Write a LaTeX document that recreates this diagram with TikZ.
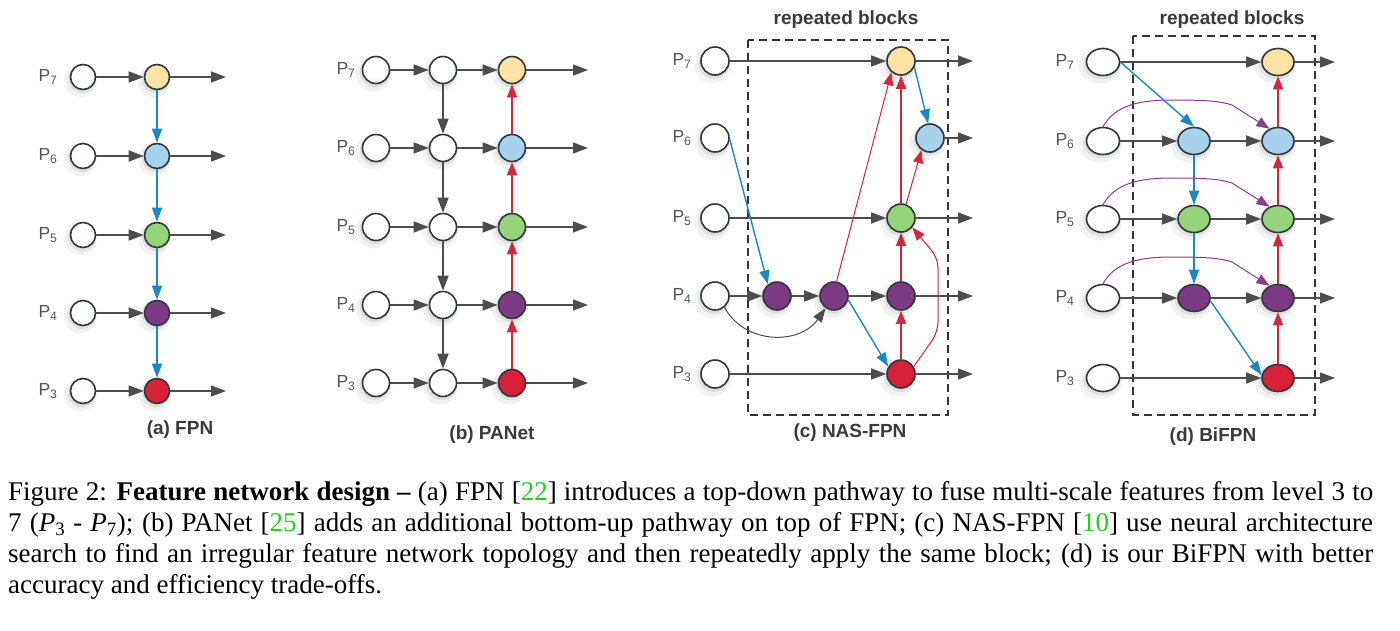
\documentclass[tikz,border=0pt]{standalone}
\usepackage{fontspec}
\setmainfont{Liberation Serif}
\setsansfont{Liberation Sans}
\usetikzlibrary{arrows.meta,shapes.geometric,shadows}
\definecolor{cyel}{HTML}{FCE3A4}
\definecolor{cblu}{HTML}{A8D2EC}
\definecolor{cgrn}{HTML}{96D47C}
\definecolor{cpur}{HTML}{7C3A84}
\definecolor{cred}{HTML}{D82039}
\definecolor{ndline}{HTML}{30363B}
\definecolor{gline}{HTML}{4D4D4D}
\definecolor{bline}{HTML}{1A88C4}
\definecolor{rline}{HTML}{D9243D}
\definecolor{pline}{HTML}{8A3E8E}
\definecolor{lbltxt}{HTML}{555555}
\definecolor{ttltxt}{HTML}{3A3A3A}
\definecolor{boxline}{HTML}{333333}
\definecolor{citegreen}{HTML}{1FD01F}
\begin{document}
\begin{tikzpicture}[x=1pt,y=-1pt,
  glow/.style={general shadow={fill=black,fill opacity=0.05,shadow scale=1.3,shadow xshift=-2pt,shadow yshift=-3pt},
               general shadow={fill=black,fill opacity=0.07,shadow scale=1.12,shadow xshift=-1pt,shadow yshift=-2pt}},
  nd/.style={circle,draw=ndline,line width=1.6pt,inner sep=0pt,fill=white,glow},
  ndel/.style={ellipse,draw=ndline,line width=1.6pt,inner sep=0pt,fill=white,glow,minimum width=32pt,minimum height=27pt},
  lbl/.style={text=lbltxt,font=\fontsize{17.5}{20}\selectfont\sffamily,inner sep=0pt},
  ttl/.style={text=ttltxt,font=\fontsize{19}{22}\selectfont\sffamily\bfseries,inner sep=0pt},
  ga/.style={draw=gline,line width=1.3pt,-{Triangle[length=15pt,width=11pt]}},
  gthin/.style={draw=gline,line width=1pt,-{Triangle[length=14pt,width=10pt]}},
  ba/.style={draw=bline,line width=1.4pt,-{Triangle[length=14pt,width=10pt]}},
  ra/.style={draw=rline,line width=1.3pt,-{Triangle[length=13pt,width=10pt]}},
  rthin/.style={draw=rline,line width=1pt,-{Triangle[length=13pt,width=10pt]}},
  pa/.style={draw=pline,line width=1pt,-{Triangle[length=13pt,width=10pt]}},
  dbox/.style={draw=boxline,line width=1.8pt,dash pattern=on 8pt off 5pt}
]
\useasboundingbox[fill=white] (0,0) rectangle (1400,630);

% ---------------- (a) FPN ----------------
\foreach \i/\y/\c in {7/77/cyel,6/156/cblu,5/235/cgrn,4/313/cpur,3/391/cred}{
  \node[lbl] (al\i) at (48,\y) {P\textsubscript{\i}};
  \node[nd,minimum size=25pt] (ain\i) at (83,\y) {};
  \node[nd,minimum size=25pt,fill=\c] (a\i) at (157,\y) {};
  \coordinate (aout\i) at (226,\y);
  \draw[ga] (ain\i) -- (a\i);
  \draw[ga] (a\i) -- (aout\i);
}
\draw[ba] (a7) -- (a6);
\draw[ba] (a6) -- (a5);
\draw[ba] (a5) -- (a4);
\draw[ba] (a4) -- (a3);
\node[ttl] (ta) at (180,430) {(a) FPN};

% ---------------- (b) PANet ----------------
\foreach \i/\y/\c in {7/70/cyel,6/148/cblu,5/227/cgrn,4/305/cpur,3/383/cred}{
  \node[lbl] (bl\i) at (346,\y) {P\textsubscript{\i}};
  \node[nd,minimum size=27pt] (bin\i) at (376,\y) {};
  \node[nd,minimum size=27pt] (bm\i) at (443,\y) {};
  \node[nd,minimum size=27pt,fill=\c] (b\i) at (512,\y) {};
  \coordinate (bout\i) at (588,\y);
  \draw[ga] (bin\i) -- (bm\i);
  \draw[ga] (bm\i) -- (b\i);
  \draw[ga] (b\i) -- (bout\i);
}
\draw[ga] (bm7) -- (bm6);
\draw[ga] (bm6) -- (bm5);
\draw[ga] (bm5) -- (bm4);
\draw[ga] (bm4) -- (bm3);
\draw[ra] (b3) -- (b4);
\draw[ra] (b4) -- (b5);
\draw[ra] (b5) -- (b6);
\draw[ra] (b6) -- (b7);
\node[ttl] (tb) at (492,435) {(b) PANet};

% ---------------- (c) NAS-FPN ----------------
\draw[dbox] (748,40) rectangle (948,415);
\node[ttl] (rc) at (846,20) {repeated blocks};
\foreach \i/\y in {7/61,6/138,5/218,4/296,3/374}{
  \node[lbl] (cl\i) at (682,\y) {P\textsubscript{\i}};
  \node[nd,minimum size=28pt] (cin\i) at (715,\y) {};
  \coordinate (cout\i) at (973,\y);
}
\node[nd,minimum size=28pt,fill=cyel] (cy) at (901,61) {};
\node[nd,minimum size=28pt,fill=cblu] (cb) at (930,138) {};
\node[nd,minimum size=28pt,fill=cgrn] (cg) at (901,218) {};
\node[nd,minimum size=28pt,fill=cpur] (c4a) at (777,296) {};
\node[nd,minimum size=28pt,fill=cpur] (c4b) at (834,296) {};
\node[nd,minimum size=28pt,fill=cpur] (c4c) at (901,296) {};
\node[nd,minimum size=28pt,fill=cred] (cr) at (901,374) {};
\draw[ga] (cin7) -- (cy);
\draw[ga] (cy) -- (cout7);
\draw[ga] (cb) -- (cout6);
\draw[ga] (cin5) -- (cg);
\draw[ga] (cg) -- (cout5);
\draw[ga] (cin4) -- (c4a);
\draw[ga] (c4a) -- (c4b);
\draw[ga] (c4b) -- (c4c);
\draw[ga] (c4c) -- (cout4);
\draw[ga] (cin3) -- (cr);
\draw[ga] (cr) -- (cout3);
\draw[gthin] (cin4.-50) .. controls (745,345) and (800,345) .. (c4b.-125);
\draw[ba] (cin6.-5) -- (c4a.128);
\draw[ba] (cy.-25) .. controls (920,90) .. (cb.97);
\draw[ba] (c4b.-15) -- (cr.150);
\draw[rthin] (c4b.80) -- (cy.-130);
\draw[ra] (cr) -- (c4c);
\draw[ra] (c4c) -- (cg);
\draw[ra] (cg) -- (cy);
\draw[rthin] (cg.70) -- (cb.-125);
\draw[rthin,rounded corners=10pt] (cr.30) -- (938,332) -- (938,258) -- (cg.-40);
\node[ttl] (tc) at (850,433) {(c) NAS-FPN};

% ---------------- (d) BiFPN ----------------
\draw[dbox] (1133,36) rectangle (1315,415);
\node[ttl] (rd) at (1232,20) {repeated blocks};
\foreach \i/\y in {7/62,6/141,5/219,4/298,3/378}{
  \node[lbl] (dl\i) at (1065,\y) {P\textsubscript{\i}};
  \node[ndel,minimum width=33pt] (din\i) at (1103,\y) {};
  \coordinate (dout\i) at (1335,\y);
}
\node[ndel,fill=cyel] (dr7) at (1278,62) {};
\node[ndel,fill=cblu] (dm6) at (1194,141) {};
\node[ndel,fill=cblu] (dr6) at (1278,141) {};
\node[ndel,fill=cgrn] (dm5) at (1194,219) {};
\node[ndel,fill=cgrn] (dr5) at (1278,219) {};
\node[ndel,fill=cpur] (dm4) at (1194,298) {};
\node[ndel,fill=cpur] (dr4) at (1278,298) {};
\node[ndel,fill=cred] (dr3) at (1278,378) {};
\draw[ga] (din7) -- (dr7);
\draw[ga] (dr7) -- (dout7);
\foreach \i in {6,5,4}{
  \draw[ga] (din\i) -- (dm\i);
  \draw[ga] (dm\i) -- (dr\i);
  \draw[ga] (dr\i) -- (dout\i);
}
\draw[ga] (din3) -- (dr3);
\draw[ga] (dr3) -- (dout3);
\foreach \i/\y in {6/141,5/219,4/298}{
  \draw[pa] (din\i.north) .. controls (1115,\y-36) and (1140,\y-41) .. (1172,\y-41)
     .. controls (1205,\y-41) and (1220,\y-40) .. (1232,\y-36) -- (dr\i.125);
}
\draw[ba] (din7.east) -- (dm6.north);
\draw[ba] (dm6) -- (dm5);
\draw[ba] (dm5) -- (dm4);
\draw[ba] (dm4.-10) -- (dr3.170);
\draw[ra] (dr3) -- (dr4);
\draw[ra] (dr4) -- (dr5);
\draw[ra] (dr5) -- (dr6);
\draw[ra] (dr6) -- (dr7);
\node[ttl] (td) at (1213,437) {(d) BiFPN};

% ---------------- caption ----------------
\node[anchor=north west,inner sep=0pt,text width=1365pt,align=justify,
      font=\fontsize{27}{31}\selectfont] (cap) at (8,481)
 {Figure 2: \textbf{Feature network design --} (a) FPN [\textcolor{citegreen}{22}] introduces a top-down pathway to fuse multi-scale features from level 3 to\linebreak
 7 (\textit{P}\textsubscript{3} - \textit{P}\textsubscript{7}); (b) PANet [\textcolor{citegreen}{25}] adds an additional bottom-up pathway on top of FPN; (c) NAS-FPN [\textcolor{citegreen}{10}] use neural architecture\linebreak
 search to find an irregular feature network topology and then repeatedly apply the same block; (d) is our BiFPN with better\linebreak
 accuracy and efficiency trade-offs.};
\end{tikzpicture}
\end{document}
